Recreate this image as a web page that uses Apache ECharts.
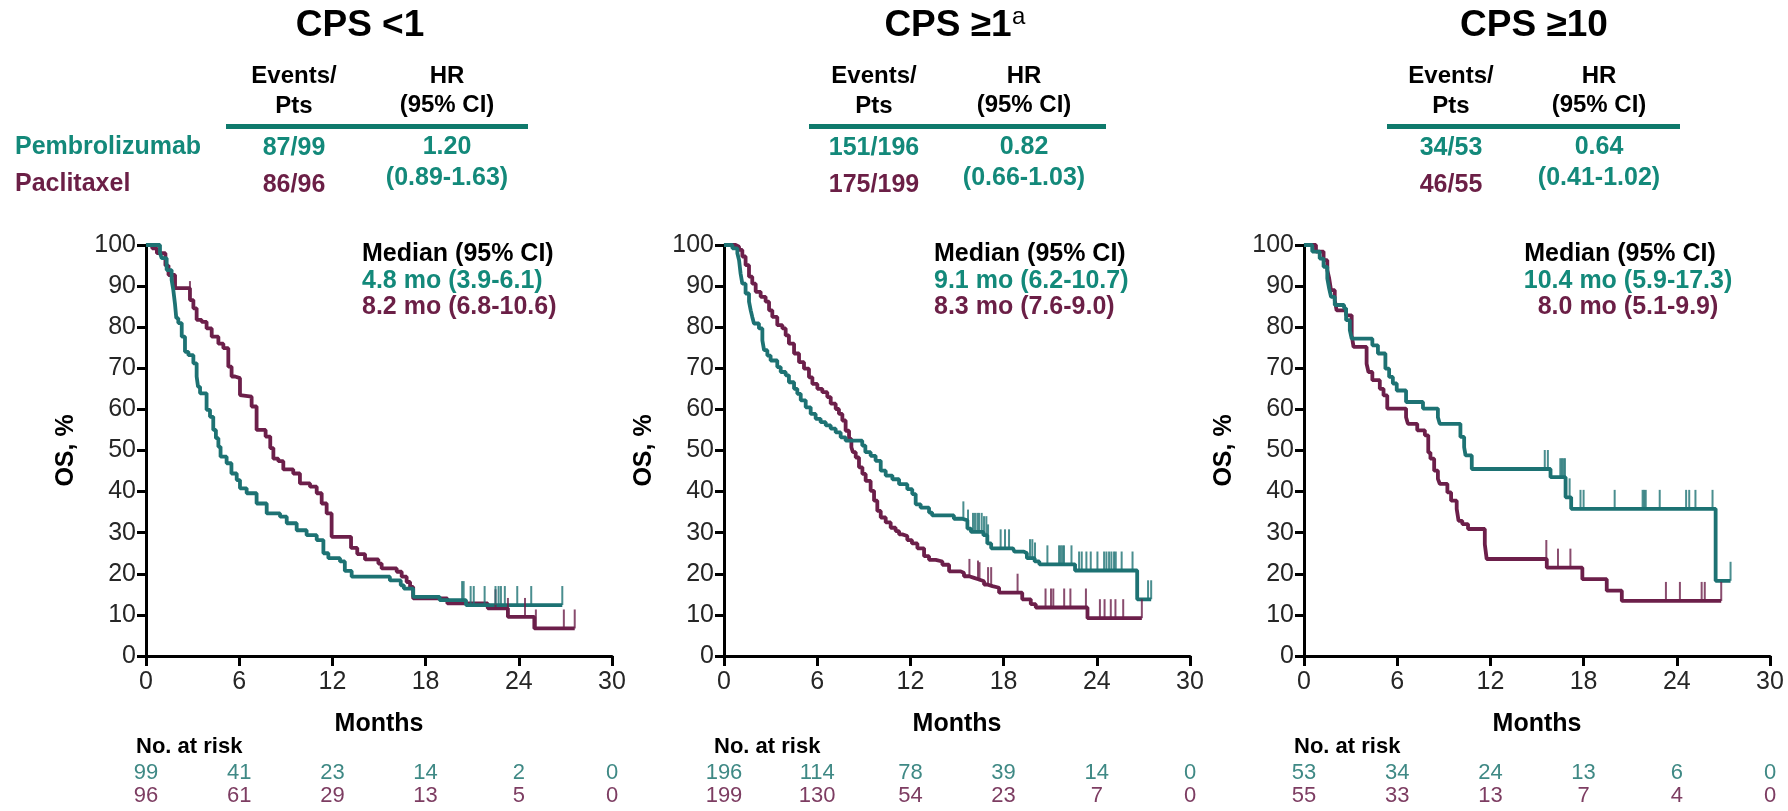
<!DOCTYPE html>
<html>
<head>
<meta charset="utf-8">
<script src="https://cdn.jsdelivr.net/npm/echarts@6/dist/echarts.min.js"></script>
<style>
  html, body { margin: 0; padding: 0; background: #ffffff; }
  #chart { width: 1788px; height: 811px; }
</style>
</head>
<body>
<div id="chart"></div>
<script>
// ---- Kaplan–Meier overall survival by CPS subgroup ----

// Axis tick values
const monthTicks = [0, 6, 12, 18, 24, 30];
const osTicks = [0, 10, 20, 30, 40, 50, 60, 70, 80, 90, 100];

// Subgroup titles
const panelTitles = ['CPS <1', 'CPS \u22651', 'CPS \u226510'];
const armNames = ['Pembrolizumab', 'Paclitaxel'];

// Events / patients and hazard ratios
const eventsPembro = ['87/99', '151/196', '34/53'];
const eventsPacli = ['86/96', '175/199', '46/55'];
const hazardRatio = ['1.20', '0.82', '0.64'];
const hazardCI = ['(0.89-1.63)', '(0.66-1.03)', '(0.41-1.02)'];

// Median OS (95% CI)
const medianPembro = ['4.8 mo (3.9-6.1)', '9.1 mo (6.2-10.7)', '10.4 mo (5.9-17.3)'];
const medianPacli = ['8.2 mo (6.8-10.6)', '8.3 mo (7.6-9.0)', '8.0 mo (5.1-9.9)'];

// Number at risk at 0, 6, 12, 18, 24, 30 months
const riskPembro = [[99, 41, 23, 14, 2, 0], [196, 114, 78, 39, 14, 0], [53, 34, 24, 13, 6, 0]];
const riskPacli = [[96, 61, 29, 13, 5, 0], [199, 130, 54, 23, 7, 0], [55, 33, 13, 7, 4, 0]];

// Survival steps: [month, OS % from that month on]
const cpsLt1Pembro = [[0,100],[0.9,98],[1.01,96.8],[1.33,93.9],[1.65,91.5],[1.76,89],[1.87,85.5],[1.95,82.2],[2.08,81],[2.3,77.7],[2.51,74],[2.73,73.2],[3.05,71.2],[3.26,68],[3.35,65.5],[3.48,63.9],[3.9,59.9],[4.12,58.2],[4.33,55],[4.5,53],[4.66,50.9],[4.8,48.5],[5.19,46.9],[5.5,44.4],[5.84,42.8],[6.05,40.8],[6.48,39.6],[7.12,37.1],[7.77,34.7],[8.63,33.9],[9.06,32.3],[9.7,30.6],[10.34,29.4],[10.99,28.2],[11.42,25],[11.74,23.8],[12.49,23],[12.8,20.7],[13.24,19.3],[15.7,18.4],[16.4,17.2],[16.6,16.4],[17.2,14.4],[18.9,13.6],[20.6,12.4],[26.8,12.4]];
const cpsLt1Pacli = [[0,100],[0.4,99.2],[0.7,98],[1.25,95],[1.45,92.7],[1.87,89.5],[2.83,86.6],[3.05,84.6],[3.26,81.8],[3.58,81.3],[3.9,79.7],[4.23,77.7],[4.66,76],[4.98,74.9],[5.3,70.4],[5.51,68],[5.73,67.6],[6.05,63.5],[6.16,63.1],[6.8,60.7],[7.12,55],[7.7,53.4],[8.0,50.6],[8.2,48],[8.52,47.4],[8.84,45.4],[9.48,44.4],[9.91,42],[10.56,41.2],[10.99,39.6],[11.31,37.1],[11.63,34.7],[11.95,29],[13.2,26.3],[13.6,24.8],[14.1,23.5],[14.96,22.5],[15.17,21.3],[16.14,20.5],[16.46,19.3],[16.78,18],[17.0,16.8],[17.2,14],[19.4,12.8],[22.0,11.6],[23.3,9.5],[25.0,6.7],[27.6,6.7]];
const cpsGe1Pembro = [[0,100],[0.54,99.2],[0.86,98],[0.97,96.3],[1.07,93],[1.18,90.6],[1.39,88.2],[1.61,86.2],[1.72,84.1],[1.82,82.5],[1.93,80.9],[2.25,79.7],[2.47,76.8],[2.58,74.4],[2.79,73.1],[3.0,71.9],[3.43,70.3],[3.65,69.1],[3.97,68.3],[4.18,66.6],[4.51,65],[4.72,63.8],[4.94,62.2],[5.26,60.5],[5.58,58.9],[5.9,57.7],[6.22,56.9],[6.55,56.1],[6.87,55.3],[7.19,54.4],[7.51,53.2],[7.83,52.4],[8.9,51.2],[9.1,49.6],[9.44,48.7],[9.76,47.5],[10.09,45.1],[10.41,43.9],[10.84,43],[11.27,41.8],[11.8,40.6],[12.12,39.4],[12.34,36.9],[12.66,36.1],[13.2,34.9],[13.4,34.2],[14.8,33.4],[15.35,33],[15.67,31],[15.9,30.2],[16.7,29.4],[16.95,27.4],[17.2,26.2],[18.6,25.8],[18.7,25.4],[19.3,25],[19.5,23.8],[20.0,23],[20.3,22.3],[22.6,20.8],[26.6,13.8],[27.5,13.8]];
const cpsGe1Pacli = [[0,100],[0.75,99.6],[0.97,98.8],[1.18,97.2],[1.39,95.1],[1.61,92.3],[1.82,90.6],[2.04,88.6],[2.36,87.4],[2.68,86.2],[2.9,84.1],[3.11,82.5],[3.43,80.5],[3.76,79.7],[3.97,78],[4.18,76],[4.51,73.6],[4.83,71.5],[5.15,69.9],[5.47,67.8],[5.69,66.2],[6.01,65],[6.33,64.2],[6.65,63],[6.87,61.4],[7.19,60.1],[7.4,58.9],[7.62,57.3],[7.83,54.8],[8.05,52.8],[8.2,50.8],[8.3,49.6],[8.48,48.3],[8.69,45.9],[8.91,44.3],[9.12,42.6],[9.44,40.2],[9.66,37.8],[9.87,35.3],[10.09,33.7],[10.41,32.5],[10.73,31.2],[11.05,30.4],[11.27,29.6],[11.48,29.2],[11.8,28.2],[12.1,27.4],[12.45,26.2],[12.88,24.3],[13.2,23.4],[13.63,23.0],[14.06,22.2],[14.49,20.6],[15.24,20.2],[15.45,19.4],[15.78,19],[16.1,18.6],[16.42,18.2],[16.74,17.4],[16.95,17.0],[17.28,16.6],[17.71,15.4],[19.2,13.8],[19.75,12.6],[20.07,11.8],[23.4,9.2],[26.9,9.2]];
const cpsGe10Pembro = [[0,100],[0.53,98.4],[1.01,96.7],[1.26,94.7],[1.5,91.9],[1.62,89.4],[1.74,87.4],[1.98,85.4],[2.58,84.6],[2.71,81.7],[2.95,79.3],[3.07,77.2],[4.4,75.6],[4.76,73.6],[5.24,69.9],[5.48,67.9],[5.72,66.3],[5.97,64.6],[6.57,61.8],[7.66,60.2],[8.62,58.1],[8.74,56.5],[10.07,53.3],[10.31,50.8],[10.4,48.8],[10.8,45.5],[15.87,43.5],[16.84,38.6],[17.2,35.8],[26.5,18.3],[27.46,18.3]];
const cpsGe10Pacli = [[0,100],[0.77,98.4],[1.26,96.3],[1.5,93.9],[1.62,91.9],[1.74,89],[1.98,86.6],[2.1,84.1],[2.71,82.9],[3.07,78],[3.19,75.2],[4.03,71.1],[4.15,69.1],[4.4,67.1],[4.88,65],[5.12,63.4],[5.36,60.2],[6.57,58.1],[6.69,56.5],[7.29,54.9],[7.78,53.7],[8.0,49.5],[8.14,48],[8.38,45.1],[8.62,43.1],[8.74,41.9],[9.23,39.8],[9.47,37.8],[9.83,35.8],[9.95,32.9],[10.19,32.1],[10.56,30.9],[11.64,27.2],[11.76,23.6],[15.63,21.5],[17.92,18.7],[19.49,15.9],[20.46,13.4],[26.86,13.4]];

// Censoring times (months)
const cpsLt1PembroCens = [20.35, 20.45, 20.9, 21.1, 21.8, 22.5, 22.7, 22.85, 23.1, 23.9, 24.8, 26.8];
const cpsLt1PacliCens = [2.83, 22.5, 23.3, 24.4, 25.1, 26.9, 27.6];
const cpsGe1PembroCens = [15.41, 15.71, 16.03, 16.16, 16.31, 16.42, 16.59, 16.74, 16.89, 17.0, 17.81, 18.09, 18.35, 19.7, 19.85, 20.02, 20.82, 21.57, 21.68, 21.79, 21.89, 22.37, 22.86, 23.03, 23.33, 23.61, 24.04, 24.47, 24.62, 24.79, 24.94, 25.11, 25.22, 25.6, 26.3, 27.3, 27.5];
const cpsGe1PacliCens = [15.8, 16.35, 16.45, 17.0, 17.2, 18.9, 20.7, 21.05, 21.2, 21.9, 22.3, 23.3, 24.2, 24.5, 24.9, 25.2, 25.7, 26.9];
const cpsGe10PembroCens = [15.5, 15.7, 16.5, 16.6, 16.7, 16.8, 17.1, 17.8, 18.0, 20.0, 21.8, 21.9, 22.0, 22.9, 24.6, 24.8, 25.2, 26.3, 27.46];
const cpsGe10PacliCens = [15.6, 16.35, 17.15, 23.3, 24.2, 25.6, 25.8, 26.86];

const pembroCurves = [cpsLt1Pembro, cpsGe1Pembro, cpsGe10Pembro];
const pacliCurves = [cpsLt1Pacli, cpsGe1Pacli, cpsGe10Pacli];
const pembroCens = [cpsLt1PembroCens, cpsGe1PembroCens, cpsGe10PembroCens];
const pacliCens = [cpsLt1PacliCens, cpsGe1PacliCens, cpsGe10PacliCens];

// ---- styling ----
const FONT = '"Liberation Sans", Arial, Helvetica, sans-serif';
const TEAL_TEXT = '#13897a';
const TEAL_LINE = '#1d7273';
const TEAL_RULE = '#0f7a6c';
const MAROON_TEXT = '#6b1f46';
const MAROON_LINE = '#6c1f4a';
const TEAL_RISK = '#3f8985';
const MAROON_RISK = '#7d3d62';
const AXIS = '#000000';

// ---- layout of the three panels ----
const gridLeft = [146, 724, 1304];
const gridWidth = 466;
const gridTop = 245;
const gridHeight = 411;

const header = [
  { titleX: 360, eventsX: 294, hrX: 447, rule: [226, 528], medianX: 362, medianAlign: 'left' },
  { titleX: 948, eventsX: 874, hrX: 1024, rule: [809, 1106], medianX: 934, medianAlign: 'left' },
  { titleX: 1534, eventsX: 1451, hrX: 1599, rule: [1387, 1680], medianX: 1628, medianAlign: 'center' }
];

// value of a step curve at a given month
function survAt(curve, t) {
  let v = curve[0][1];
  for (const p of curve) { if (p[0] <= t) v = p[1]; else break; }
  return v;
}

const chart = echarts.init(document.getElementById('chart'), null, { renderer: 'canvas' });

const grids = [], xAxes = [], yAxes = [], series = [];
for (let i = 0; i < 3; i++) {
  grids.push({ left: gridLeft[i], top: gridTop, width: gridWidth, height: gridHeight, containLabel: false });
  xAxes.push({
    type: 'value', gridIndex: i, min: 0, max: 30, interval: 6,
    axisLine: { show: true, onZero: false, lineStyle: { color: AXIS, width: 3 } },
    axisTick: { show: true, length: 10, customValues: monthTicks, lineStyle: { color: AXIS, width: 3 } },
    axisLabel: { customValues: monthTicks, fontSize: 25, color: '#262626', fontFamily: FONT, margin: 14 },
    splitLine: { show: false }
  });
  yAxes.push({
    type: 'value', gridIndex: i, min: 0, max: 100, interval: 10,
    axisLine: { show: true, onZero: false, lineStyle: { color: AXIS, width: 3 } },
    axisTick: { show: true, length: 9, customValues: osTicks, lineStyle: { color: AXIS, width: 3 } },
    axisLabel: { customValues: osTicks, fontSize: 25, color: '#262626', fontFamily: FONT, margin: 10 },
    splitLine: { show: false }
  });
  const arms = [
    { curve: pacliCurves[i], cens: pacliCens[i], color: MAROON_LINE, name: armNames[1] },
    { curve: pembroCurves[i], cens: pembroCens[i], color: TEAL_LINE, name: armNames[0] }
  ];
  arms.forEach(function (arm, k) {
    series.push({
      type: 'line', name: arm.name, xAxisIndex: i, yAxisIndex: i,
      step: 'end', data: arm.curve, symbol: 'none', showSymbol: false,
      lineStyle: { color: arm.color, width: 3.8 }, z: 3 + k, silent: true
    });
    series.push({
      type: 'scatter', name: arm.name + ' censored', xAxisIndex: i, yAxisIndex: i,
      data: arm.cens.map(function (t) { return [t, survAt(arm.curve, t)]; }),
      symbol: 'rect', symbolSize: [2, 19], symbolOffset: [0, -9.5],
      itemStyle: { color: arm.color }, z: 5, silent: true
    });
  });
}

chart.setOption({
  animation: false,
  backgroundColor: '#ffffff',
  grid: grids,
  xAxis: xAxes,
  yAxis: yAxes,
  series: series
});

// ---- text blocks ----
function text(x, y, str, font, fill, align, extra) {
  const el = {
    type: 'text', x: x, y: y, silent: true,
    style: { text: str, font: font, fill: fill, align: align || 'center', verticalAlign: 'middle',
             textAlign: align || 'center', textVerticalAlign: 'middle' }
  };
  return Object.assign(el, extra || {});
}
const B = function (size) { return 'bold ' + size + 'px ' + FONT; };
const R = function (size) { return size + 'px ' + FONT; };

const graphics = [];
// arm labels on the left of the first table
graphics.push(text(15, 147, armNames[0], B(25), TEAL_TEXT, 'left'));
graphics.push(text(15, 184, armNames[1], B(25), MAROON_TEXT, 'left'));

for (let i = 0; i < 3; i++) {
  const h = header[i];
  graphics.push(text(h.titleX, 26, panelTitles[i], B(37), '#000', 'center'));
  graphics.push(text(h.eventsX, 76, 'Events/', B(24), '#000'));
  graphics.push(text(h.eventsX, 106, 'Pts', B(24), '#000'));
  graphics.push(text(h.hrX, 76, 'HR', B(24), '#000'));
  graphics.push(text(h.hrX, 105, '(95% CI)', B(24), '#000'));
  graphics.push({ type: 'rect', silent: true, shape: { x: h.rule[0], y: 124, width: h.rule[1] - h.rule[0], height: 5 }, style: { fill: TEAL_RULE } });
  graphics.push(text(h.eventsX, 148, eventsPembro[i], B(25), TEAL_TEXT));
  graphics.push(text(h.eventsX, 185, eventsPacli[i], B(25), MAROON_TEXT));
  graphics.push(text(h.hrX, 147, hazardRatio[i], B(25), TEAL_TEXT));
  graphics.push(text(h.hrX, 178, hazardCI[i], B(25), TEAL_TEXT));

  // median block
  graphics.push(text(h.medianAlign === 'center' ? h.medianX - 8 : h.medianX, 254, 'Median (95% CI)', B(25), '#000', h.medianAlign));
  graphics.push(text(h.medianX, 281, medianPembro[i], B(25), TEAL_TEXT, h.medianAlign));
  graphics.push(text(h.medianX, 307, medianPacli[i], B(25), MAROON_TEXT, h.medianAlign));

  // axis names
  graphics.push(text(gridLeft[i] - 80, gridTop + gridHeight / 2, 'OS, %', B(25), '#000', 'center', { rotation: Math.PI / 2 }));
  graphics.push(text(gridLeft[i] + gridWidth / 2, 724, 'Months', B(25), '#000'));

  // number at risk table, columns placed on the month axis
  graphics.push(text(gridLeft[i] - 10, 747, 'No. at risk', B(22), '#000', 'left'));
  monthTicks.forEach(function (m, j) {
    const px = chart.convertToPixel({ xAxisIndex: i }, m);
    graphics.push(text(px, 773, String(riskPembro[i][j]), R(22), TEAL_RISK));
    graphics.push(text(px, 796, String(riskPacli[i][j]), R(22), MAROON_RISK));
  });
}
// superscript on the middle title
graphics.push(text(1012, 17, 'a', R(24), '#000', 'left'));

chart.setOption({ graphic: { elements: graphics } });
</script>
</body>
</html>
